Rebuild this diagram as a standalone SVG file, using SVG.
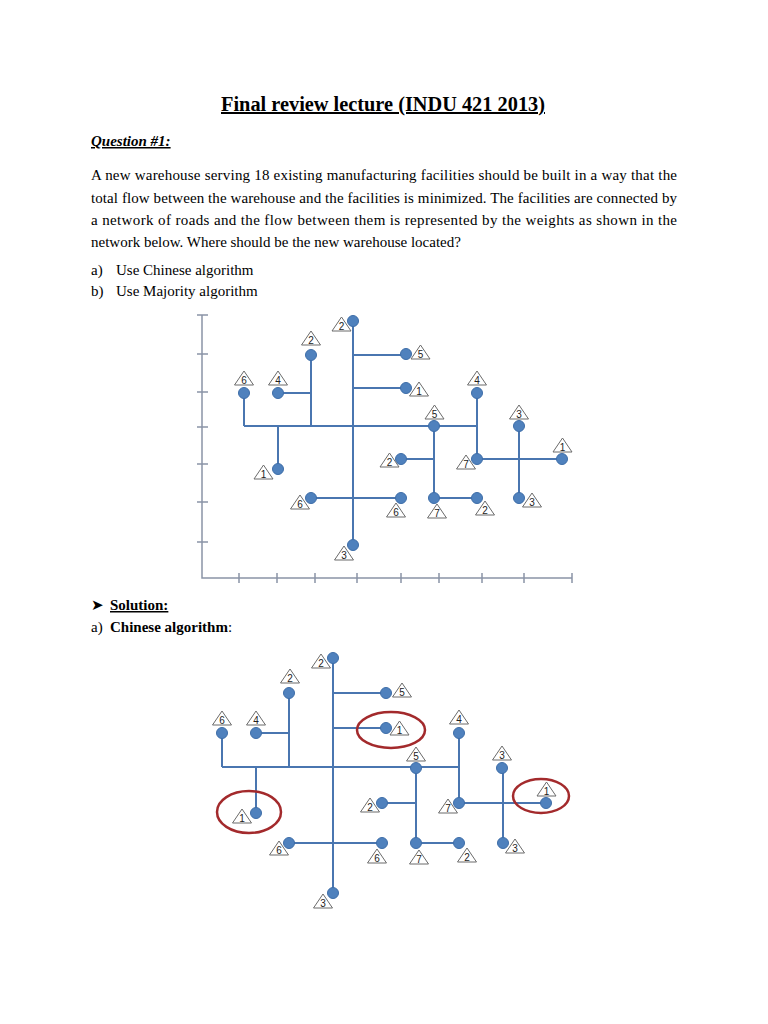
<svg xmlns="http://www.w3.org/2000/svg" width="768" height="1024" viewBox="0 0 768 1024">
<style>
.t{font-family:"Liberation Serif","Times New Roman",serif;fill:#000}
.p{font-size:15px}
.e{stroke:#4a76b0;stroke-width:2;fill:none}
.ax{stroke:#8a94a6;stroke-width:1.5;fill:none}
.n{fill:#4f81bd;stroke:#3d6da8;stroke-width:1}
.tr{fill:#fff;stroke:#6b6b6b;stroke-width:1}
.lb{font-family:"Liberation Sans",Arial,sans-serif;font-size:10px;fill:#222;text-anchor:middle}
.rd{fill:none;stroke:#a32a2c;stroke-width:2.5}
</style>
<rect width="768" height="1024" fill="#fff"/>
<g id="text">
<text class="t" x="221" y="111" font-size="20" font-weight="bold" text-decoration="underline" textLength="324" lengthAdjust="spacingAndGlyphs">Final review lecture (INDU 421 2013)</text>
<text class="t" x="91" y="146" font-size="15" font-weight="bold" font-style="italic" text-decoration="underline">Question #1:</text>
<text class="t p" x="91" y="180" textLength="586" lengthAdjust="spacing">A new warehouse serving 18 existing manufacturing facilities should be built in a way that the</text>
<text class="t p" x="91" y="203" textLength="586" lengthAdjust="spacing">total flow between the warehouse and the facilities is minimized. The facilities are connected by</text>
<text class="t p" x="91" y="225" textLength="586" lengthAdjust="spacing">a network of roads and the flow between them is represented by the weights as shown in the</text>
<text class="t p" x="91" y="247">network below. Where should be the new warehouse located?</text>
<text class="t p" x="91" y="275">a)</text><text class="t p" x="116" y="275">Use Chinese algorithm</text>
<text class="t p" x="91" y="296">b)</text><text class="t p" x="116" y="296">Use Majority algorithm</text>
<text class="t p" x="91" y="610">➤</text>
<text class="t p" x="110" y="610" font-weight="bold" text-decoration="underline">Solution:</text>
<text class="t p" x="91" y="632">a)</text><text class="t p" x="110" y="632"><tspan font-weight="bold">Chinese algorithm</tspan>:</text>
</g>
<g id="axes">
<path class="ax" d="M202,315V578H572"/>
<path class="ax" d="M197,315H208M197,354H208M197,392H208M197,427H208M197,464H208M197,502H208M197,542H208"/>
<path class="ax" d="M239,573V583M277,573V583M315,573V583M357,573V583M401,573V583M439,573V583M482,573V583M524,573V583M572,573V583"/>
</g>
<g id="connectors-top">
<path class="e" d="M353,321V545M353,355H406M353,388H406M311,355V426M278,393H311M244,393V426M244,426H477M278,426V469M434,426V498M401,459H434M477,393V459M477,459H562M519,426V498M311,498H401M434,498H477"/>
</g>
<g id="connectors-bottom">
<path class="e" d="M333,658V893M333,693H386M333,728H386M289,693V767M256,733H289M222,733V767M222,767H459M256,767V813M416,767V843M382,803H416M459,733V803M459,803H546M503,768V843M289,843H382M416,843H459"/>
</g>
<g id="top-nodes">
<g id="t1"><circle class="n" cx="353" cy="321" r="5.5"/><path class="tr" d="M332,331L341.5,317L351,331Z"/><text class="lb" x="341.5" y="330">2</text></g>
<g id="t2"><circle class="n" cx="311" cy="355" r="5.5"/><path class="tr" d="M301.5,345L311,331L320.5,345Z"/><text class="lb" x="311" y="344">2</text></g>
<g id="t3"><circle class="n" cx="244" cy="393" r="5.5"/><path class="tr" d="M234.5,385L244,371L253.5,385Z"/><text class="lb" x="244" y="384">6</text></g>
<g id="t4"><circle class="n" cx="278" cy="393" r="5.5"/><path class="tr" d="M268.5,385L278,371L287.5,385Z"/><text class="lb" x="278" y="384">4</text></g>
<g id="t5"><circle class="n" cx="406" cy="354" r="5.5"/><path class="tr" d="M411,359L420.5,345L430,359Z"/><text class="lb" x="420.5" y="358">5</text></g>
<g id="t6"><circle class="n" cx="406" cy="388" r="5.5"/><path class="tr" d="M409.5,396L419,382L428.5,396Z"/><text class="lb" x="419" y="395">1</text></g>
<g id="t7"><circle class="n" cx="477" cy="393" r="5.5"/><path class="tr" d="M467.5,385L477,371L486.5,385Z"/><text class="lb" x="477" y="384">4</text></g>
<g id="t8"><circle class="n" cx="434" cy="426" r="5.5"/><path class="tr" d="M425,419L434.5,405L444,419Z"/><text class="lb" x="434.5" y="418">5</text></g>
<g id="t9"><circle class="n" cx="519" cy="426" r="5.5"/><path class="tr" d="M509.5,419L519,405L528.5,419Z"/><text class="lb" x="519" y="418">3</text></g>
<g id="t10"><circle class="n" cx="278" cy="469" r="5.5"/><path class="tr" d="M254,479L263.5,465L273,479Z"/><text class="lb" x="263.5" y="478">1</text></g>
<g id="t11"><circle class="n" cx="401" cy="459" r="5.5"/><path class="tr" d="M380,467L389.5,453L399,467Z"/><text class="lb" x="389.5" y="466">2</text></g>
<g id="t12"><circle class="n" cx="477" cy="459" r="5.5"/><path class="tr" d="M456.5,469L466,455L475.5,469Z"/><text class="lb" x="466" y="468">7</text></g>
<g id="t13"><circle class="n" cx="562" cy="459" r="5.5"/><path class="tr" d="M553,452L562.5,438L572,452Z"/><text class="lb" x="562.5" y="451">1</text></g>
<g id="t14"><circle class="n" cx="311" cy="498" r="5.5"/><path class="tr" d="M290.5,509L300,495L309.5,509Z"/><text class="lb" x="300" y="508">6</text></g>
<g id="t15"><circle class="n" cx="401" cy="498" r="5.5"/><path class="tr" d="M386.5,517L396,503L405.5,517Z"/><text class="lb" x="396" y="516">6</text></g>
<g id="t16"><circle class="n" cx="434" cy="498" r="5.5"/><path class="tr" d="M427.5,518L437,504L446.5,518Z"/><text class="lb" x="437" y="517">7</text></g>
<g id="t17"><circle class="n" cx="477" cy="498" r="5.5"/><path class="tr" d="M475.5,515L485,501L494.5,515Z"/><text class="lb" x="485" y="514">2</text></g>
<g id="t18"><circle class="n" cx="519" cy="498" r="5.5"/><path class="tr" d="M522.5,507L532,493L541.5,507Z"/><text class="lb" x="532" y="506">3</text></g>
<g id="t19"><circle class="n" cx="353" cy="545" r="5.5"/><path class="tr" d="M334.5,560L344,546L353.5,560Z"/><text class="lb" x="344" y="559">3</text></g>
</g>
<g id="bottom-nodes">
<g id="b1"><circle class="n" cx="333" cy="658" r="5.5"/><path class="tr" d="M311.5,668L321,654L330.5,668Z"/><text class="lb" x="321" y="667">2</text></g>
<g id="b2"><circle class="n" cx="289" cy="693" r="5.5"/><path class="tr" d="M280.5,683L290,669L299.5,683Z"/><text class="lb" x="290" y="682">2</text></g>
<g id="b3"><circle class="n" cx="222" cy="733" r="5.5"/><path class="tr" d="M212.5,725L222,711L231.5,725Z"/><text class="lb" x="222" y="724">6</text></g>
<g id="b4"><circle class="n" cx="256" cy="733" r="5.5"/><path class="tr" d="M246.5,725L256,711L265.5,725Z"/><text class="lb" x="256" y="724">4</text></g>
<g id="b5"><circle class="n" cx="386" cy="693" r="5.5"/><path class="tr" d="M392.5,697L402,683L411.5,697Z"/><text class="lb" x="402" y="696">5</text></g>
<g id="b6"><circle class="n" cx="386" cy="728" r="5.5"/><path class="tr" d="M390,735L399.5,721L409,735Z"/><text class="lb" x="399.5" y="734">1</text></g>
<g id="b7"><circle class="n" cx="459" cy="733" r="5.5"/><path class="tr" d="M449.5,724L459,710L468.5,724Z"/><text class="lb" x="459" y="723">4</text></g>
<g id="b8"><circle class="n" cx="416" cy="768" r="5.5"/><path class="tr" d="M406.5,761L416,747L425.5,761Z"/><text class="lb" x="416" y="760">5</text></g>
<g id="b9"><circle class="n" cx="502" cy="768" r="5.5"/><path class="tr" d="M492.5,760L502,746L511.5,760Z"/><text class="lb" x="502" y="759">3</text></g>
<g id="b10"><circle class="n" cx="256" cy="813" r="5.5"/><path class="tr" d="M232.5,823L242,809L251.5,823Z"/><text class="lb" x="242" y="822">1</text></g>
<g id="b11"><circle class="n" cx="382" cy="803" r="5.5"/><path class="tr" d="M360.5,812L370,798L379.5,812Z"/><text class="lb" x="370" y="811">2</text></g>
<g id="b12"><circle class="n" cx="459" cy="803" r="5.5"/><path class="tr" d="M438.5,813L448,799L457.5,813Z"/><text class="lb" x="448" y="812">7</text></g>
<g id="b13"><circle class="n" cx="546" cy="803" r="5.5"/><path class="tr" d="M537,796L546.5,782L556,796Z"/><text class="lb" x="546.5" y="795">1</text></g>
<g id="b14"><circle class="n" cx="289" cy="843" r="5.5"/><path class="tr" d="M269.5,855L279,841L288.5,855Z"/><text class="lb" x="279" y="854">6</text></g>
<g id="b15"><circle class="n" cx="382" cy="843" r="5.5"/><path class="tr" d="M367.5,863L377,849L386.5,863Z"/><text class="lb" x="377" y="862">6</text></g>
<g id="b16"><circle class="n" cx="416" cy="843" r="5.5"/><path class="tr" d="M409.5,864L419,850L428.5,864Z"/><text class="lb" x="419" y="863">7</text></g>
<g id="b17"><circle class="n" cx="459" cy="843" r="5.5"/><path class="tr" d="M457.5,862L467,848L476.5,862Z"/><text class="lb" x="467" y="861">2</text></g>
<g id="b18"><circle class="n" cx="503" cy="843" r="5.5"/><path class="tr" d="M505.5,853L515,839L524.5,853Z"/><text class="lb" x="515" y="852">3</text></g>
<g id="b19"><circle class="n" cx="333" cy="893" r="5.5"/><path class="tr" d="M313.5,908L323,894L332.5,908Z"/><text class="lb" x="323" y="907">3</text></g>
</g>
<g id="highlights">
<ellipse class="rd" cx="391" cy="730" rx="34" ry="18"/>
<ellipse class="rd" cx="249" cy="812" rx="32" ry="21"/>
<ellipse class="rd" cx="541" cy="796" rx="28" ry="17"/>
</g>
</svg>
